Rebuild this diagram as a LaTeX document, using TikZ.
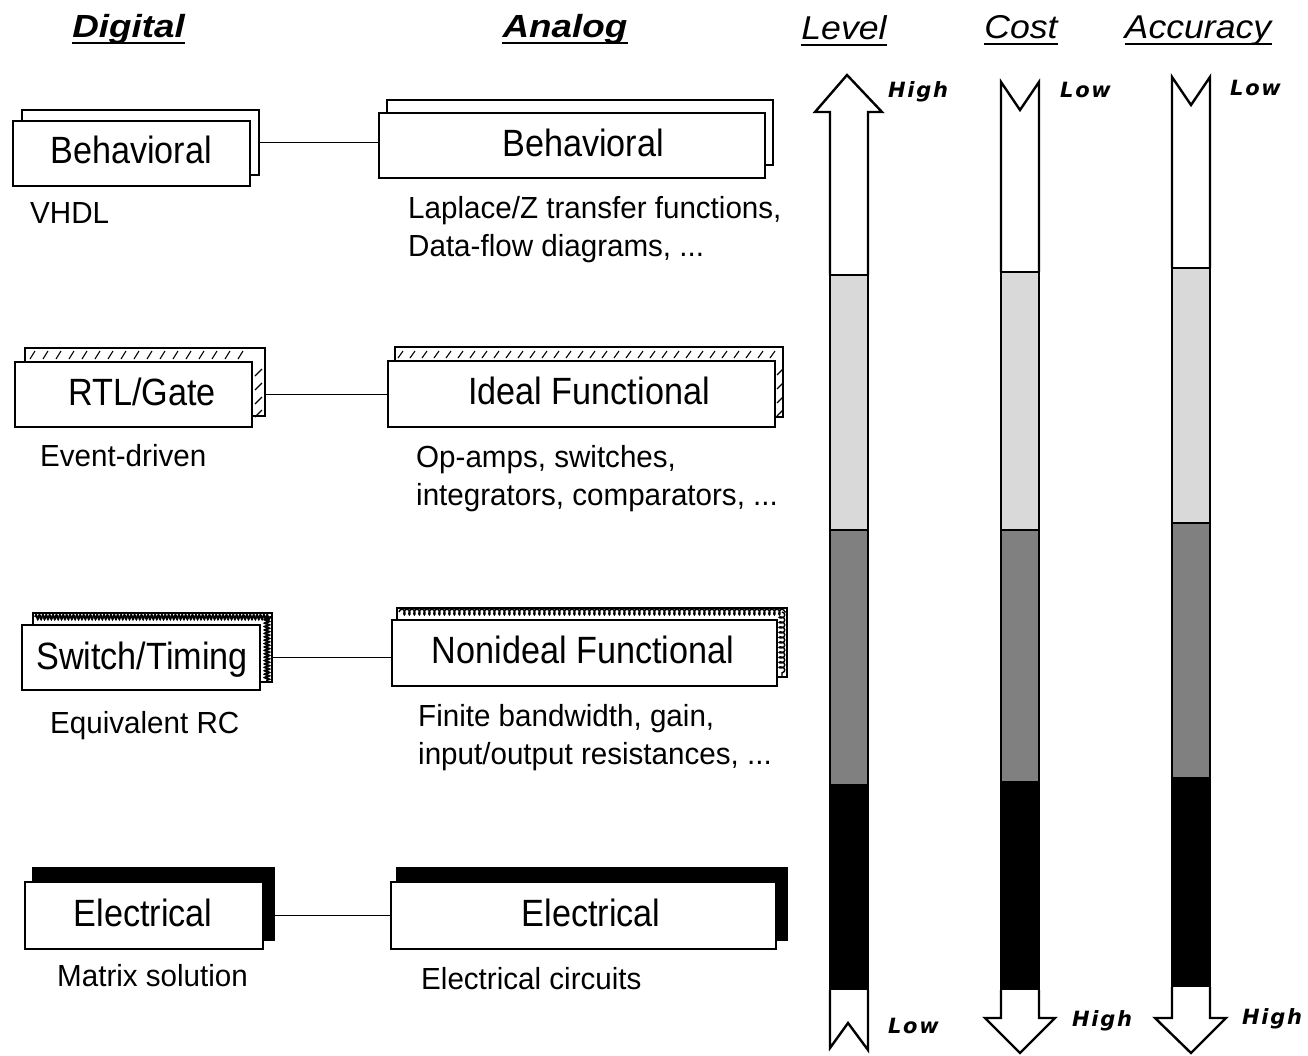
\documentclass[tikz,border=0pt]{standalone}
\usepackage{fontspec}
\setmainfont{Liberation Sans}
\newfontfamily\labelfont[FakeStretch=0.9]{Liberation Sans}
\newfontfamily\notefont[FakeStretch=0.97]{Liberation Sans}
\newfontfamily\headfont[FakeStretch=1.15]{Liberation Sans}
\newfontfamily\plainhead[FakeStretch=1.08]{Liberation Sans}
\newfontfamily\tagfont[LetterSpace=8]{DejaVu Sans}
\usetikzlibrary{decorations.pathmorphing}
\definecolor{lightbar}{gray}{0.85}
\definecolor{darkbar}{gray}{0.5}

\begin{document}
\begin{tikzpicture}[x=1pt,y=-1pt,
  frontbox/.style={draw,fill=white,line width=1.8pt,inner sep=0pt,outer sep=0pt},
  backbox/.style={draw,line width=1.6pt,inner sep=0pt,outer sep=0pt},
  solidback/.style={draw,fill=black,line width=1.6pt,inner sep=0pt,outer sep=0pt},
  boxlabel/.style={font=\labelfont\fontsize{38}{42}\selectfont,inner sep=0pt,anchor=base},
  caption/.style={font=\notefont\fontsize{30.5}{36}\selectfont,inner sep=0pt,anchor=base west},
  bighead/.style={font=\headfont\fontsize{32}{36}\selectfont\bfseries\itshape,inner sep=0pt,anchor=base},
  smallhead/.style={font=\plainhead\fontsize{33}{36}\selectfont\itshape,inner sep=0pt,anchor=base},
  underbar/.style={line width=1.6pt},
  link/.style={line width=1.8pt},
  tick/.style={line width=1.1pt},
  densewave/.style={decorate,decoration={snake,amplitude=2.4pt,segment length=3.4pt},line width=1.7pt},
  loopwave/.style={decorate,decoration={coil,amplitude=2.8pt,segment length=5pt,aspect=0.6},line width=1.4pt},
  bar/.style={draw,line width=2.4pt,line join=miter},
  tag/.style={font=\tagfont\fontsize{21}{24}\selectfont\bfseries\itshape,inner sep=0pt,anchor=base west}
]
\useasboundingbox (0,0) rectangle (1308,1055);

% ---------- column headings ----------
\node[bighead] (hDig) at (128.5,37) {Digital};
\node[bighead] (hAna) at (565,37) {Analog};
\node[smallhead] (hLev) at (844,39) {Level};
\node[smallhead] (hCost) at (1021,38) {Cost};
\node[smallhead] (hAcc) at (1198,38) {Accuracy};
\foreach \h in {hDig,hAna,hLev,hCost,hAcc}
  \draw[underbar] ([yshift=-6pt]\h.base west) -- ([yshift=-6pt]\h.base east);

% ---------- behavioral level ----------
\node[backbox,minimum width=237,minimum height=65] (dBehB) at (140.5,142.5) {};
\node[frontbox,minimum width=237,minimum height=65] (dBeh) at (131.5,153.5) {};
\node[boxlabel] (dBehT) at (131,163) {Behavioral};
\node[backbox,minimum width=386,minimum height=65] (aBehB) at (580,132.5) {};
\node[frontbox,minimum width=386,minimum height=65] (aBeh) at (572,145.5) {};
\node[boxlabel] (aBehT) at (583,156) {Behavioral};
\draw[link] (dBehB.east) -- (dBehB.east -| aBeh.west);
\node[caption] (cVhdl) at (30,223) {VHDL};
\node[caption] (cLap1) at (408,218) {Laplace/Z transfer functions,};
\node[caption] (cLap2) at (408,256) {Data-flow diagrams, ...};

% ---------- RTL / ideal functional level ----------
\node[backbox,minimum width=240,minimum height=68] (dRtlB) at (145,382) {};
\foreach \x in {30,43,...,250} \draw[tick] (\x,359) -- (\x+5,351);
\foreach \y in {372,386,400,413} \draw[tick] (255,\y+4) -- (262,\y-3);
\node[frontbox,minimum width=237,minimum height=65] (dRtl) at (133.5,394.5) {};
\node[boxlabel] (dRtlT) at (142,405) {RTL/Gate};
\node[backbox,minimum width=388,minimum height=70] (aIdlB) at (589,382) {};
\foreach \x in {398,410,...,770} \draw[tick] (\x,358) -- (\x+5,351);
\foreach \y in {372,386,400,413} \draw[tick] (777,\y+3) -- (783,\y-3);
\node[frontbox,minimum width=387,minimum height=66] (aIdl) at (581.5,394) {};
\node[boxlabel] (aIdlT) at (589,404) {Ideal Functional};
\draw[link] (dRtl.east -| dRtlB.east) -- (dRtl.east -| aIdl.west);
\node[caption] (cEvt) at (40,466) {Event-driven};
\node[caption] (cOp1) at (416,467) {Op-amps, switches,};
\node[caption] (cOp2) at (416,505) {integrators, comparators, ...};

% ---------- switch / nonideal functional level ----------
\node[backbox,minimum width=239,minimum height=69] (dSwB) at (152.5,647.5) {};
\draw[densewave] (35,617) -- (271,617);
\draw[densewave] (267,617) -- (267,681);
\node[frontbox,minimum width=238,minimum height=65] (dSw) at (141,657.5) {};
\node[boxlabel] (dSwT) at (142,669) {Switch/Timing};
\node[backbox,minimum width=390,minimum height=69] (aNidB) at (592,642.5) {};
\draw[loopwave] (399,612) -- (786,612);
\draw[loopwave] (782,612) -- (782,676);
\node[frontbox,minimum width=385,minimum height=66] (aNid) at (584.5,653) {};
\node[boxlabel] (aNidT) at (583,663) {Nonideal Functional};
\draw[link] (dSw.east -| dSwB.east) -- (dSw.east -| aNid.west);
\node[caption] (cEqv) at (50,733) {Equivalent RC};
\node[caption] (cFin1) at (418,726) {Finite bandwidth, gain,};
\node[caption] (cFin2) at (418,764) {input/output resistances, ...};

% ---------- electrical level ----------
\node[solidback,minimum width=241,minimum height=72] (dElB) at (153.5,904) {};
\node[frontbox,minimum width=238,minimum height=67] (dEl) at (144,915.5) {};
\node[boxlabel] (dElT) at (143,926) {Electrical};
\node[solidback,minimum width=390,minimum height=72] (aElB) at (592,904) {};
\node[frontbox,minimum width=385,minimum height=67] (aEl) at (583.5,915.5) {};
\node[boxlabel] (aElT) at (591,926) {Electrical};
\draw[link] (dEl.east -| dElB.east) -- (dEl.east -| aEl.west);
\node[caption] (cMat) at (57,986) {Matrix solution};
\node[caption] (cCir) at (421,989) {Electrical circuits};

% ---------- level bar ----------
\draw[bar,fill=white] (830,275) -- (830,112) -- (815,112) -- (847,75) -- (882,112) -- (868,112) -- (868,275);
\draw[bar,fill=lightbar] (830,275) rectangle (868,530);
\draw[bar,fill=darkbar] (830,530) rectangle (868,785);
\draw[bar,fill=black] (830,785) rectangle (868,990);
\draw[bar,fill=white] (830,990) -- (830,1048) -- (848,1023) -- (868,1050) -- (868,990);

% ---------- cost bar ----------
\draw[bar,fill=white] (1001,272) -- (1001,82) -- (1020,110) -- (1039,82) -- (1039,272);
\draw[bar,fill=lightbar] (1001,272) rectangle (1039,530);
\draw[bar,fill=darkbar] (1001,530) rectangle (1039,782);
\draw[bar,fill=black] (1001,782) rectangle (1039,990);
\draw[bar,fill=white] (1001,990) -- (1001,1018) -- (985,1018) -- (1020,1053) -- (1055,1018) -- (1039,1018) -- (1039,990);

% ---------- accuracy bar ----------
\draw[bar,fill=white] (1172,268) -- (1172,77) -- (1191,105) -- (1210,77) -- (1210,268);
\draw[bar,fill=lightbar] (1172,268) rectangle (1210,523);
\draw[bar,fill=darkbar] (1172,523) rectangle (1210,778);
\draw[bar,fill=black] (1172,778) rectangle (1210,987);
\draw[bar,fill=white] (1172,987) -- (1172,1018) -- (1155,1018) -- (1191,1053) -- (1226,1018) -- (1210,1018) -- (1210,987);

% ---------- bar end labels ----------
\node[tag] (tLevHi) at (888,97) {High};
\node[tag] (tCostLo) at (1060,97) {Low};
\node[tag] (tAccLo) at (1230,95) {Low};
\node[tag] (tLevLo) at (888,1033) {Low};
\node[tag] (tCostHi) at (1072,1026) {High};
\node[tag] (tAccHi) at (1242,1024) {High};
\end{tikzpicture}
\end{document}
